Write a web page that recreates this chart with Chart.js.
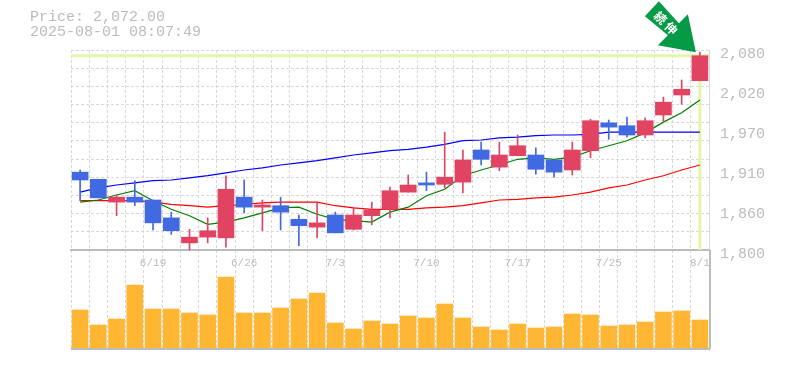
<!DOCTYPE html>
<html>
<head>
<meta charset="utf-8">
<title>Price chart</title>
<script src="https://cdn.jsdelivr.net/npm/chart.js@4/dist/chart.umd.min.js"></script>
<style>
    html, body { margin: 0; padding: 0; background: #fff; }
    canvas { display: block; }
</style>
</head>
<body>
<canvas id="chart" width="785" height="370"></canvas>
<script>
const dates = ['6/13','6/16','6/17','6/18','6/19','6/20','6/23','6/24','6/25','6/26','6/27','6/30','7/1','7/2','7/3','7/4','7/7','7/8','7/9','7/10','7/11','7/14','7/15','7/16','7/17','7/18','7/22','7/23','7/24','7/25','7/28','7/29','7/30','7/31','8/1'];
const dateLabels = ['6/19','6/26','7/3','7/10','7/17','7/25','8/1'];

const opens  = [1909,1899,1867,1874,1870,1845,1810,1818,1817,1874,1860,1862,1843,1832,1849,1829,1848,1857,1881,1894,1892,1895,1940,1916,1932,1933,1926,1912,1939,1978,1974,1961,1989,2017,2037];
const closes = [1898,1873,1874,1867,1838,1827,1818,1827,1885,1860,1863,1853,1834,1838,1824,1849,1856,1883,1891,1891,1902,1926,1927,1933,1946,1913,1909,1940,1981,1972,1961,1981,2007,2025,2072];
const highs  = [1912,1899,1877,1897,1870,1853,1829,1845,1904,1898,1870,1874,1849,1866,1853,1860,1867,1888,1905,1909,1965,1940,1951,1951,1961,1943,1926,1951,1983,1982,1986,1985,2014,2038,2077];
const lows   = [1869,1873,1848,1862,1828,1822,1800,1810,1804,1852,1827,1828,1806,1817,1824,1828,1835,1845,1881,1883,1887,1880,1919,1911,1932,1906,1902,1905,1929,1955,1958,1957,1979,2004,2037];

const maShort = [1867,1870,1877,1883,1869,1857,1848,1836,1839,1845,1852,1859,1860,1850,1843,1841,1839,1853,1860,1876,1885,1904,1912,1919,1927,1929,1927,1930,1939,1946,1953,1964,1979,1992,2010];
const maMid   = [1869,1869,1869,1869,1867,1864,1862,1860,1862,1864,1866,1867,1867,1867,1862,1859,1857,1857,1857,1859,1860,1862,1866,1870,1871,1873,1874,1877,1881,1887,1891,1898,1904,1912,1919];
const maLong  = [1881,1887,1891,1894,1897,1898,1901,1904,1908,1912,1915,1919,1922,1925,1929,1933,1936,1939,1941,1944,1948,1953,1954,1957,1958,1960,1961,1961,1962,1965,1965,1965,1965,1965,1965];

const volumes = [115,70,88,190,118,118,106,100,214,106,106,121,148,166,76,58,82,73,97,91,133,91,64,55,73,61,64,103,100,67,70,79,109,112,85];

const priceTicks = [1800,1856,1912,1968,2024,2080];
const priceTickLabels = ['1,800','1,860','1,910','1,970','2,020','2,080'];

const titleLines = ['Price: 2,072.00','2025-08-01 08:07:49'];
const badgeText = '続伸';

const UP = '#e14462', DOWN = '#4169e1', TEXT = '#bcbcbc', GRID = '#d8d8d8', MARK = '#e3f5a8';
const lastIndex = closes.length - 1;
const candleColors = closes.map((c, i) => (c >= opens[i] ? UP : DOWN));

// latest-price crosshair, under the candles
const lastPriceLines = {
    id: 'lastPriceLines',
    beforeDatasetsDraw(chart) {
        const { ctx, chartArea, scales } = chart;
        const x = scales.x.getPixelForValue(lastIndex);
        const y = scales.y.getPixelForValue(closes[lastIndex]);
        ctx.save();
        ctx.strokeStyle = MARK;
        ctx.lineWidth = 3;
        ctx.beginPath();
        ctx.moveTo(chartArea.left, y);
        ctx.lineTo(chartArea.right, y);
        ctx.moveTo(x, y);
        ctx.lineTo(x, scales.y.getPixelForValue(1800));
        ctx.stroke();
        ctx.restore();
    }
};

// bottom frame + green badge pointing at the last candle
const frameAndBadge = {
    id: 'frameAndBadge',
    afterDatasetsDraw(chart) {
        const { ctx, chartArea, scales } = chart;
        const panelTop = scales.y.getPixelForValue(1800);

        ctx.save();
        ctx.strokeStyle = TEXT;
        ctx.lineWidth = 2;
        ctx.beginPath();
        ctx.moveTo(chartArea.left, chartArea.bottom - 1);
        ctx.lineTo(chartArea.right + 1, chartArea.bottom - 1);
        ctx.moveTo(chartArea.right + 1, panelTop);
        ctx.lineTo(chartArea.right + 1, chartArea.bottom - 1);
        ctx.stroke();

        const tipX = scales.x.getPixelForValue(lastIndex) - 4;
        const tipY = scales.y.getPixelForValue(highs[lastIndex]);
        const arrow = [[0, 0], [-38, -7], [-28, -17], [-51, -36], [-37, -51], [-17, -29], [-8, -38]];
        ctx.fillStyle = '#059a46';
        ctx.beginPath();
        arrow.forEach(([dx, dy], i) => (i ? ctx.lineTo(tipX + dx, tipY + dy) : ctx.moveTo(tipX + dx, tipY + dy)));
        ctx.closePath();
        ctx.fill();

        ctx.translate(tipX - 29, tipY - 28);
        ctx.rotate(Math.PI / 4);
        ctx.fillStyle = '#fff';
        ctx.font = 'bold 12px "Noto Sans CJK JP"';
        ctx.letterSpacing = '3px';
        ctx.textAlign = 'center';
        ctx.textBaseline = 'middle';
        ctx.fillText(badgeText, 0, 0);
        ctx.restore();
    }
};

new Chart(document.getElementById('chart').getContext('2d'), {
    data: {
        labels: dates,
        datasets: [
            { type: 'bar', data: opens.map((o, i) => [o, closes[i]]), backgroundColor: candleColors, barThickness: 16, grouped: false, order: 1 },
            { type: 'bar', data: lows.map((l, i) => [l, highs[i]]), backgroundColor: candleColors, barThickness: 1, grouped: false, order: 2 },
            { type: 'line', data: maLong, borderColor: '#0000ff', borderWidth: 1.2, pointRadius: 0, tension: 0, order: 3 },
            { type: 'line', data: maShort, borderColor: '#008000', borderWidth: 1.2, pointRadius: 0, tension: 0, order: 4 },
            { type: 'line', data: maMid, borderColor: '#ff0000', borderWidth: 1.2, pointRadius: 0, tension: 0, order: 5 },
            { type: 'bar', data: volumes, yAxisID: 'yVol', backgroundColor: '#ffb733', barThickness: 16, grouped: false, order: 6 }
        ]
    },
    options: {
        responsive: false,
        animation: false,
        layout: { padding: { left: 30, bottom: 20 } },
        plugins: {
            legend: { display: false },
            tooltip: { enabled: false },
            title: {
                display: true,
                align: 'start',
                text: titleLines,
                color: TEXT,
                font: { family: '"Liberation Mono"', size: 15, weight: 'normal', lineHeight: 1 },
                padding: { top: 10, bottom: 10 }
            }
        },
        scales: {
            x: {
                type: 'category',
                offset: true,
                position: { y: 1800 },
                grid: { color: GRID, offset: true, drawTicks: false },
                border: { color: TEXT, width: 2, dash: [3, 2] },
                ticks: {
                    autoSkip: false,
                    maxRotation: 0,
                    padding: 6,
                    color: TEXT,
                    font: { family: '"Liberation Mono"', size: 11 },
                    callback(value) {
                        const label = this.getLabelForValue(value);
                        return dateLabels.includes(label) ? label : '';
                    }
                }
            },
            y: {
                position: 'right',
                min: 1660,
                max: 2080,
                grid: { display: false },
                border: { color: GRID, width: 1 },
                afterBuildTicks(axis) { axis.ticks = priceTicks.map(value => ({ value })); },
                afterFit(axis) { axis.width = 76; },
                ticks: {
                    padding: 3,
                    labelOffset: 4,
                    color: TEXT,
                    font: { family: '"Liberation Mono"', size: 15 },
                    callback(value) { return priceTickLabels[priceTicks.indexOf(value)]; }
                }
            },
            // 11 even grid rows over the price panel only
            yGrid: {
                position: 'left',
                min: -5.5,
                max: 11,
                grid: { color: GRID, drawTicks: false },
                border: { display: false, dash: [3, 2] },
                afterBuildTicks(axis) { axis.ticks = [0,1,2,3,4,5,6,7,8,9,10,11].map(value => ({ value })); },
                afterFit(axis) { axis.width = 41; },
                ticks: { display: false }
            },
            yVol: { display: false, min: -5, max: 895 }
        }
    },
    plugins: [lastPriceLines, frameAndBadge]
});
</script>
</body>
</html>
